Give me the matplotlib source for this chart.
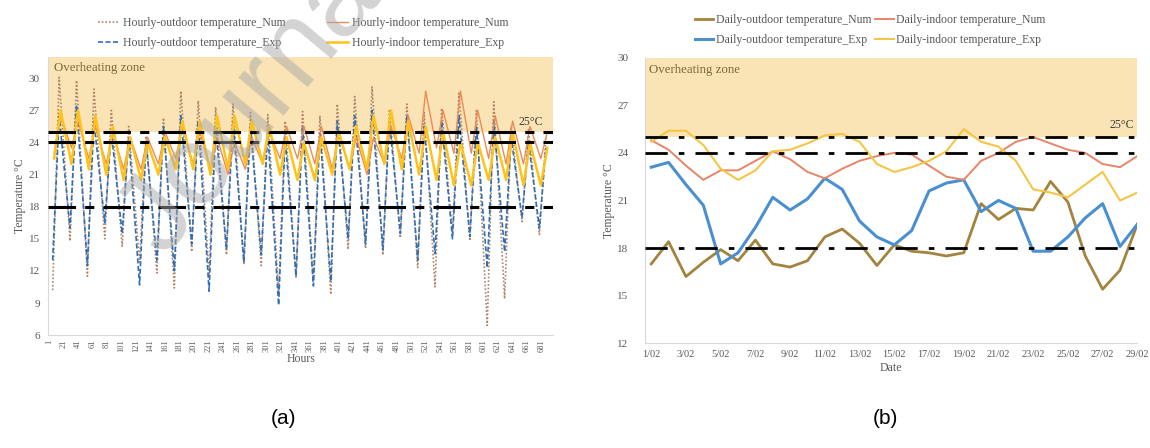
import numpy as np
import matplotlib
matplotlib.use("Agg")
import matplotlib.pyplot as plt

# ---------------- data: panel (a) hourly (daily extremes) --------------
days = list(range(1, 30))
out_num_min = [10.2, 14.8, 11.5, 15.0, 14.3, 12.8, 11.8, 10.4, 13.8, 11.6, 13.5, 12.6, 12.5, 10.0, 11.3,
               11.0, 9.8, 14.0, 14.1, 13.5, 15.1, 12.3, 10.5, 15.5, 14.8, 6.9, 9.4, 16.6, 15.4]
out_num_max = [30.1, 29.8, 29.0, 27.0, 25.5, 24.6, 26.3, 28.8, 27.9, 27.3, 27.6, 26.8, 26.6, 26.0, 26.9,
               26.5, 27.6, 28.3, 29.2, 27.1, 27.6, 26.8, 27.2, 28.6, 27.0, 27.8, 25.5, 25.2, 24.5]
out_exp_min = [13.0, 16.0, 12.5, 16.5, 15.5, 10.7, 13.0, 12.0, 14.5, 10.1, 14.0, 12.8, 13.5, 8.8, 11.5,
               10.6, 11.0, 15.0, 14.5, 14.0, 15.5, 13.0, 13.6, 15.0, 15.2, 12.3, 13.8, 17.0, 16.0]
out_exp_max = [26.5, 27.5, 26.0, 25.0, 24.5, 24.0, 25.5, 26.5, 26.0, 25.5, 26.0, 25.5, 25.0, 24.5, 25.5,
               25.0, 26.0, 26.5, 27.0, 26.0, 26.5, 25.5, 26.0, 26.5, 25.5, 26.0, 24.5, 24.0, 23.5]
in_num_min = [23.0, 23.5, 22.5, 22.0, 21.5, 21.5, 22.0, 22.5, 22.0, 21.5, 21.0, 21.5, 22.0, 22.5, 22.5,
              22.0, 21.5, 21.5, 21.0, 22.0, 22.5, 23.0, 23.5, 23.0, 23.0, 22.5, 22.0, 22.0, 22.5]
in_num_max = [26.5, 26.0, 25.5, 25.0, 24.5, 24.5, 25.0, 25.5, 25.0, 24.5, 24.0, 24.5, 25.0, 25.5, 25.5,
              25.5, 25.0, 24.5, 24.5, 25.5, 26.5, 28.8, 27.0, 28.8, 27.0, 26.5, 26.0, 25.5, 25.0]
in_exp_min = [22.5, 22.0, 21.5, 21.0, 20.5, 20.5, 21.0, 21.5, 21.5, 21.0, 21.5, 22.0, 22.0, 21.0, 20.5,
              20.5, 21.0, 21.5, 21.5, 22.0, 21.5, 21.0, 20.5, 20.0, 20.0, 20.5, 20.5, 20.0, 20.0]
in_exp_max = [27.0, 27.0, 26.5, 25.5, 24.5, 24.0, 24.5, 26.0, 26.0, 26.5, 26.5, 26.0, 25.5, 24.5, 24.0,
              24.5, 25.0, 25.5, 26.5, 27.0, 26.0, 25.5, 25.0, 24.0, 24.0, 24.5, 25.0, 24.0, 23.5]
hour_ticks = list(range(1, 682, 20))

# ---------------- data: panel (b) daily ----------------
date_labels = [f"{d}/02" for d in range(1, 30, 2)]
daily_out_num = [17.0, 18.4, 16.2, 17.1, 17.9, 17.2, 18.5, 17.0, 16.8, 17.2, 18.7, 19.2, 18.3, 16.9, 18.2,
                 17.8, 17.7, 17.5, 17.7, 20.8, 19.8, 20.5, 20.4, 22.2, 20.9, 17.5, 15.4, 16.6, 19.5]
daily_in_num = [24.8, 24.2, 23.2, 22.3, 22.9, 22.9, 23.5, 24.1, 23.6, 22.8, 22.4, 23.0, 23.5, 23.8, 24.0,
                23.9, 23.2, 22.5, 22.3, 23.5, 24.0, 24.7, 25.0, 24.6, 24.2, 24.0, 23.3, 23.1, 23.8]
daily_out_exp = [23.1, 23.4, 22.0, 20.7, 17.0, 17.7, 19.3, 21.2, 20.4, 21.1, 22.4, 21.7, 19.7, 18.7, 18.2,
                 19.1, 21.6, 22.1, 22.3, 20.3, 21.0, 20.5, 17.8, 17.8, 18.7, 19.9, 20.8, 18.1, 19.5]
daily_in_exp = [24.7, 25.4, 25.4, 24.5, 23.0, 22.3, 22.9, 24.1, 24.2, 24.6, 25.1, 25.2, 24.7, 23.3, 22.8,
                23.1, 23.5, 24.1, 25.5, 24.7, 24.4, 23.5, 21.7, 21.5, 21.2, 22.0, 22.8, 21.0, 21.5]

thresholds = [25, 24, 18]

# ---------------- style ----------------
serif = ["Liberation Serif", "DejaVu Serif"]
plt.rcParams['font.family'] = serif
TXT = '#595959'
ZONE = '#FAE3B4'

fig = plt.figure(figsize=(11.5, 4.48), dpi=100)

# ================= panel (a) =================
axa = fig.add_axes([0.042, 0.252, 0.439, 0.621])
axa.set_xlim(0, 697)
axa.set_ylim(6, 32)
axa.axhspan(25, 32, color=ZONE, zorder=0, lw=0)

def zig(mins, maxs, h_min, h_max):
    xs, ys = [], []
    for d, lo, hi in zip(days, mins, maxs):
        base = 24 * (d - 1)
        xs += [base + h_min, base + h_max]
        ys += [lo, hi]
    return xs, ys

x, y = zig(out_num_min, out_num_max, 6, 15)
axa.plot(x, y, ls=(0, (1, 1.2)), color='#B0846A', lw=1.2, label='Hourly-outdoor temperature_Num', zorder=3)
x, y = zig(out_exp_min, out_exp_max, 6, 15)
axa.plot(x, y, ls=(0, (3, 1.5)), color='#2F6FB5', lw=1.2, label='Hourly-outdoor temperature_Exp', zorder=3)
x, y = zig(in_num_min, in_num_max, 8, 17)
axa.plot(x, y, ls='-', color='#ED8B55', lw=1.0, label='Hourly-indoor temperature_Num', zorder=4)
x, y = zig(in_exp_min, in_exp_max, 8, 17)
axa.plot(x, y, ls='-', color='#FFC21A', lw=1.8, label='Hourly-indoor temperature_Exp', zorder=4)

for t in thresholds:
    axa.axhline(t, color='black', lw=2.2, ls=(0, (9, 3, 3, 3)), zorder=5)

axa.set_yticks(range(6, 31, 3))
axa.set_xticks(hour_ticks)
axa.set_xticklabels([str(h) for h in hour_ticks], rotation=90, fontsize=6, color=TXT)
axa.tick_params(axis='y', labelsize=8, colors=TXT, length=0, pad=6)
axa.tick_params(axis='x', length=0, pad=3)
for s in ['top', 'right']:
    axa.spines[s].set_visible(False)
for s in ['left', 'bottom']:
    axa.spines[s].set_color('#D9D9D9')
axa.set_xlabel('Hours', fontsize=8.5, color=TXT, labelpad=1)
axa.set_ylabel('Temperature °C', fontsize=8.5, color=TXT, labelpad=2)
axa.text(8, 31.0, 'Overheating zone', fontsize=9.3, color='#7F6A3A', va='center', zorder=6)
axa.text(683, 25.4, '25°C', fontsize=8.5, color='#404040', ha='right', va='bottom', zorder=6)
axa.legend(loc='center', bbox_to_anchor=(303 / 1150, 1 - 33 / 448), bbox_transform=fig.transFigure,
           ncol=2, frameon=False, fontsize=8.5, handlelength=1.8, handletextpad=0.3,
           columnspacing=3.5, labelspacing=0.7, borderpad=0, labelcolor=TXT)

# ================= panel (b) =================
axb = fig.add_axes([0.561, 0.234, 0.428, 0.637])
axb.set_xlim(0.65, 29.0)
axb.set_ylim(12, 30)
axb.axhspan(25, 30, color=ZONE, zorder=0, lw=0)

axb.plot(days, daily_out_num, color='#A4833F', lw=2.0, label='Daily-outdoor temperature_Num', zorder=3)
axb.plot(days, daily_out_exp, color='#4A8FD0', lw=2.2, label='Daily-outdoor temperature_Exp', zorder=3)
axb.plot(days, daily_in_num, color='#E88468', lw=1.4, label='Daily-indoor temperature_Num', zorder=3)
axb.plot(days, daily_in_exp, color='#F6C545', lw=1.5, label='Daily-indoor temperature_Exp', zorder=3)
for t in thresholds:
    axb.axhline(t, color='black', lw=2.0, ls=(0, (8, 4, 2, 4)), zorder=5)

axb.set_yticks(range(12, 31, 3))
axb.set_xticks(list(range(1, 30, 2)))
axb.set_xticklabels(date_labels, fontsize=7.5, color=TXT)
axb.tick_params(axis='y', labelsize=8, colors=TXT, length=0, pad=12)
axb.tick_params(axis='x', length=0, pad=5)
for s in ['top', 'right']:
    axb.spines[s].set_visible(False)
for s in ['left', 'bottom']:
    axb.spines[s].set_color('#D9D9D9')
axb.set_xlabel('Date', fontsize=8.5, color=TXT, labelpad=2)
axb.set_ylabel('Temperature °C', fontsize=8.5, color=TXT, labelpad=2)
axb.text(0.85, 29.2, 'Overheating zone', fontsize=9.3, color='#7F6A3A', va='center', zorder=6)
axb.text(28.8, 25.4, '25°C', fontsize=8.5, color='#404040', ha='right', va='bottom', zorder=6)
axb.legend(loc='center', bbox_to_anchor=(870 / 1150, 1 - 30 / 448), bbox_transform=fig.transFigure,
           ncol=2, frameon=False, fontsize=8.5, handlelength=1.6, handletextpad=0.2,
           columnspacing=0.3, labelspacing=0.7, borderpad=0, labelcolor=TXT)

# captions
fig.text(283 / 1150, 1 - 418 / 448, '(a)', fontsize=15, ha='center', va='center',
         family=['Liberation Sans', 'DejaVu Sans'])
fig.text(885 / 1150, 1 - 418 / 448, '(b)', fontsize=15, ha='center', va='center',
         family=['Liberation Sans', 'DejaVu Sans'])

# watermark
fig.text(164 / 1150, 1 - 258 / 448, 'Journal Pre-proof', fontsize=80, color='#A8A8A8', alpha=0.5,
         rotation=50, rotation_mode='anchor', ha='left', va='baseline', zorder=20,
         family=['Liberation Sans', 'DejaVu Sans'])

fig.savefig('out.png', dpi=100)
